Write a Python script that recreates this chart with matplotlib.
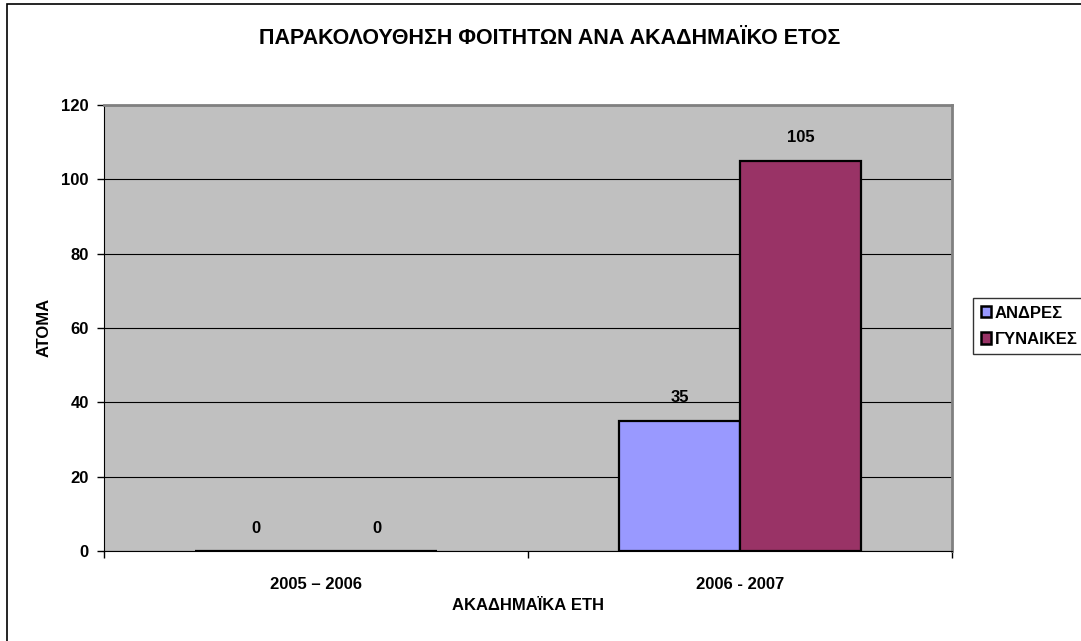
import matplotlib
matplotlib.use("Agg")
import matplotlib.pyplot as plt
from matplotlib.patches import Rectangle, Patch
import numpy as np

categories = ["2005 – 2006", "2006 - 2007"]
series_names = ["ΑΝΔΡΕΣ", "ΓΥΝΑΙΚΕΣ"]
andres = [0, 35]
gynaikes = [0, 105]
colors = ["#9999FF", "#993366"]

plt.rcParams['font.family'] = ['Liberation Sans', 'DejaVu Sans']
plt.rcParams['font.weight'] = 'bold'

W, H = 1081, 641
fig = plt.figure(figsize=(W/100, H/100), dpi=100)
fig.patch.set_facecolor('white')

# outer chart border
fig.patches.append(Rectangle((7/W, -0.05), 1.2, (H-4)/H + 0.05, transform=fig.transFigure,
                             fill=False, edgecolor='black', linewidth=1.2))

left, right, top, bottom = 104, 952, 105, 551
ax = fig.add_axes([left/W, 1-bottom/H, (right-left)/W, (bottom-top)/H])
ax.set_facecolor('#C0C0C0')

FS = 12
x = np.arange(len(categories))
bw = 0.2855
b1 = ax.bar(x - bw/2, andres, bw, color=colors[0], edgecolor='black', linewidth=1.6, label=series_names[0], zorder=3)
b2 = ax.bar(x + bw/2, gynaikes, bw, color=colors[1], edgecolor='black', linewidth=1.6, label=series_names[1], zorder=3)
for bars, vals in ((b1, andres), (b2, gynaikes)):
    for rect, v in zip(bars, vals):
        ax.annotate(f"{v}", (rect.get_x() + rect.get_width()/2, v), xytext=(0, 16.5),
                    textcoords='offset points', ha='center', va='center', fontsize=FS, fontweight='bold')

ax.set_xlim(-0.5, 1.5)
ax.set_ylim(0, 120)
ax.set_yticks(np.arange(0, 121, 20))
ax.yaxis.grid(True, color='black', linewidth=0.8, zorder=0)
ax.set_axisbelow(True)
ax.set_xticks([-0.5, 0.5, 1.5])
ax.set_xticklabels([])
ax.set_xticks(x, minor=True)
ax.set_xticklabels(categories, minor=True)
ax.tick_params(axis='x', which='minor', length=0, pad=19, labelsize=FS)
ax.tick_params(axis='x', which='major', length=5, width=1, direction='out')
ax.tick_params(axis='y', length=5, width=1, direction='out', labelsize=FS, pad=6)
for lab in ax.get_xticklabels(minor=True) + ax.get_yticklabels():
    lab.set_fontweight('bold')

ax.spines['left'].set_color('black')
ax.spines['bottom'].set_color('black')
ax.spines['top'].set_color('#808080')
ax.spines['right'].set_color('#808080')
ax.spines['top'].set_linewidth(2)
ax.spines['right'].set_linewidth(2)

ax.set_xlabel("ΑΚΑΔΗΜΑΪΚΑ ΕΤΗ", fontsize=FS, fontweight='bold', va='center', ha='center')
ax.xaxis.set_label_coords(0.5, -(606 - bottom)/(bottom - top))
ax.set_ylabel("ΑΤΟΜΑ", fontsize=FS, fontweight='bold', va='center', ha='center')
ax.yaxis.set_label_coords(-(left - 44)/(right - left), (bottom - 327)/(bottom - top))

fig.text(550/W, 1-38/H, "ΠΑΡΑΚΟΛΟΥΘΗΣΗ ΦΟΙΤΗΤΩΝ ΑΝΑ ΑΚΑΔΗΜΑΪΚΟ ΕΤΟΣ",
         ha='center', va='center', fontsize=15.5, fontweight='bold')

leg = fig.legend(handles=[Patch(facecolor=colors[0], edgecolor='black', linewidth=1.8, label=series_names[0]),
                          Patch(facecolor=colors[1], edgecolor='black', linewidth=1.8, label=series_names[1])],
                 loc='upper left', bbox_to_anchor=(973/W, 1-298/H), frameon=True, fancybox=False,
                 edgecolor='black', fontsize=FS, handlelength=0.65, handleheight=0.65,
                 handletextpad=0.2, borderpad=0.45, labelspacing=0.68, borderaxespad=0)
leg.get_frame().set_linewidth(1)
for t in leg.get_texts():
    t.set_fontweight('bold')

fig.savefig("out.png", dpi=100)
